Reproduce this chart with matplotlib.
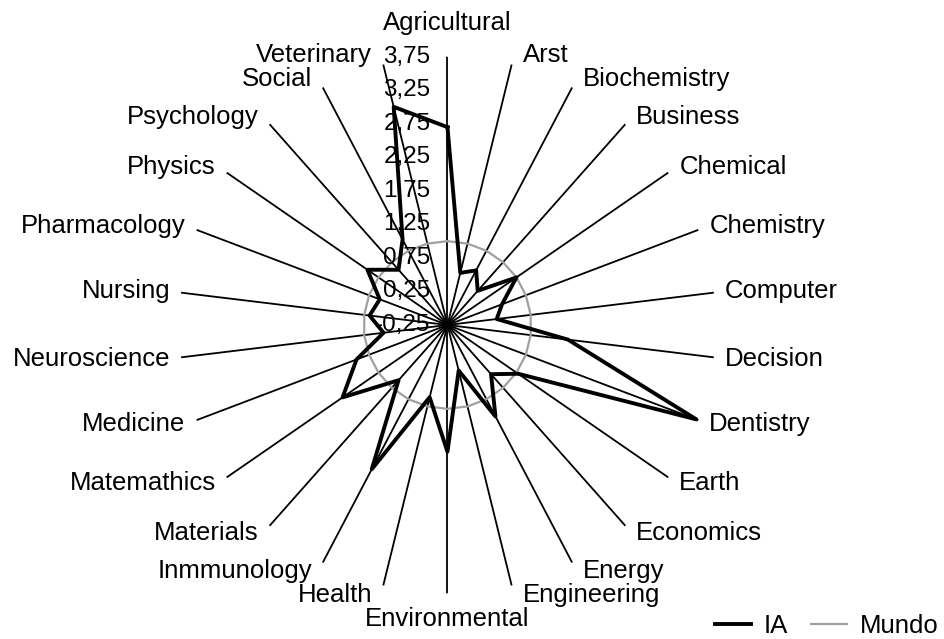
import matplotlib
matplotlib.use("Agg")
import matplotlib.pyplot as plt
import numpy as np

# categories clockwise from the top
categories = [
    "Agricultural", "Arst", "Biochemistry", "Business", "Chemical", "Chemistry",
    "Computer", "Decision", "Dentistry", "Earth", "Economics", "Energy",
    "Engineering", "Environmental", "Health", "Inmmunology", "Materials",
    "Matemathics", "Medicine", "Neuroscience", "Nursing", "Pharmacology",
    "Physics", "Psychology", "Social", "Veterinary",
]
ia = [
    2.70, 0.55, 0.67, 0.43, 1.00, 0.62,
    0.49, 1.56, 3.72, 1.03, 0.73, 1.29,
    0.45, 1.64, 0.86, 2.18, 0.85,
    1.65, 1.20, 0.71, 0.92, 0.83,
    1.20, 0.85, 1.19, 3.10,
]
mundo = [1.0] * len(categories)
r_ticks = [-0.25, 0.25, 0.75, 1.25, 1.75, 2.25, 2.75, 3.25, 3.75]

plt.rcParams["font.family"] = ["Liberation Sans", "DejaVu Sans"]

fig = plt.figure(figsize=(9.45, 6.39), dpi=100)
ax = fig.add_axes([0.1896, 0.0715, 0.5678, 0.8398], projection="polar")
ax.set_theta_zero_location("N")
ax.set_theta_direction(-1)
ax.set_ylim(r_ticks[0], r_ticks[-1])

n = len(categories)
theta = np.linspace(0, 2 * np.pi, n, endpoint=False)
ax.set_xticks(theta)
ax.set_xticklabels([])
ax.set_yticks(r_ticks)
ax.set_yticklabels([])
ax.yaxis.grid(False)
ax.xaxis.grid(True, color="black", linewidth=1.3)
ax.spines["polar"].set_visible(False)


def closed(v):
    return list(v) + [v[0]]


(l_mundo,) = ax.plot(closed(theta), closed(mundo), color="#a0a0a0", lw=1.6,
                     label="Mundo", zorder=3)
(l_ia,) = ax.plot(closed(theta), closed(ia), color="black", lw=2.8,
                  label="IA", zorder=4)

# radial tick labels along the top spoke
for v in r_ticks:
    ax.annotate(f"{v:.2f}".replace(".", ","), xy=(0, v), xytext=(-17, 0),
                textcoords="offset pixels", ha="right", va="center",
                fontsize=17.5, zorder=5)

# category labels outside the spokes
rmax = r_ticks[-1]
for th, name in zip(theta, categories):
    s, c = np.sin(th), np.cos(th)
    if abs(s) < 0.1:
        if c > 0:
            ax.annotate(name, xy=(th, rmax), xytext=(0, 22),
                        textcoords="offset pixels", ha="center", va="bottom",
                        fontsize=18.5, annotation_clip=False)
        else:
            ax.annotate(name, xy=(th, rmax), xytext=(0, -14),
                        textcoords="offset pixels", ha="center", va="top",
                        fontsize=18.5, annotation_clip=False)
    else:
        ax.annotate(name, xy=(th, rmax), xytext=(11 * np.sign(s), 10 * c),
                    textcoords="offset pixels",
                    ha="left" if s > 0 else "right", va="center",
                    fontsize=18.5, annotation_clip=False)

fig.legend(handles=[l_ia, l_mundo], loc="lower right", bbox_to_anchor=(0.995, 0.0),
           ncol=2, frameon=False, fontsize=18.5, handlelength=1.4,
           handletextpad=0.5, columnspacing=0.9, borderaxespad=0, borderpad=0.05)

fig.savefig("out.png", dpi=100)
